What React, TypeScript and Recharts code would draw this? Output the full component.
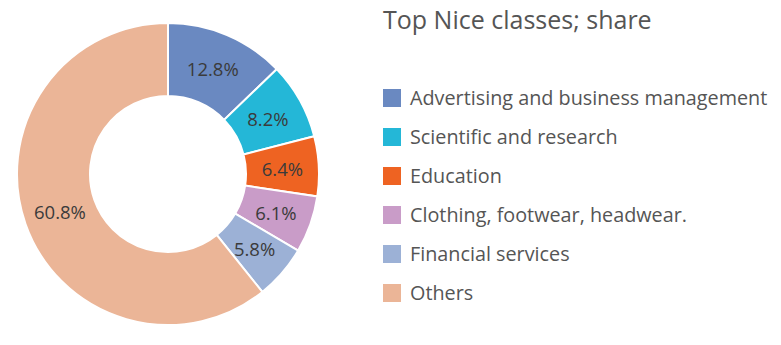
import { PieChart, Pie, Cell, Legend } from 'recharts';

const categories = [
    "Advertising and business management",
    "Scientific and research",
    "Education",
    "Clothing, footwear, headwear.",
    "Financial services",
    "Others",
];
const shares = [12.8, 8.2, 6.4, 6.1, 5.8, 60.8];
const colors = ["#6a89c1", "#24b7d7", "#ee6322", "#c99cc8", "#9cb1d6", "#ebb597"];

const data = categories.map((name, i) => ({ name, value: shares[i], fill: colors[i] }));

const FONT = '"Open Sans", "Noto Sans", sans-serif';
const RADIAN = Math.PI / 180;

const renderLabel = (props: any) => {
    const { cx, cy, midAngle, innerRadius, outerRadius, value } = props;
    const r = (innerRadius + outerRadius) / 2;
    const x = cx + r * Math.cos(-midAngle * RADIAN);
    const y = cy + r * Math.sin(-midAngle * RADIAN);
    return (
        <text x={x} y={y} fill="#3b3b3b" fontSize={18.5} fontFamily={FONT} textAnchor="middle" dominantBaseline="central">
            {value.toFixed(1)}%
        </text>
    );
};

const renderLegend = () => (
    <div style={{ fontFamily: FONT, color: "#555" }}>
        <div style={{ fontSize: 25, lineHeight: '38px', marginTop: 0 }}>Top Nice classes; share</div>
        <div style={{ marginTop: 40 }}>
            {data.map((d) => (
                <div key={d.name} style={{ display: 'flex', alignItems: 'center', height: 39, fontSize: 19.8 }}>
                    <span style={{ width: 18, height: 18, background: d.fill, display: 'inline-block', marginRight: 9 }} />
                    <span>{d.name}</span>
                </div>
            ))}
        </div>
    </div>
);

const App = () => {
    return (
        <div style={{ position: 'absolute', left: 0, top: 0, width: 781, height: 345, background: '#fff' }}>
            <PieChart width={781} height={345}>
                <Pie
                    data={data}
                    dataKey="value"
                    cx={163}
                    cy={169}
                    innerRadius={78}
                    outerRadius={151}
                    startAngle={90}
                    endAngle={-270}
                    stroke="#fff"
                    strokeWidth={2}
                    label={renderLabel}
                    labelLine={false}
                    isAnimationActive={false}
                >
                    {data.map((entry, index) => (
                        <Cell key={`cell-${index}`} fill={entry.fill} />
                    ))}
                </Pie>
                <Legend
                    content={renderLegend}
                    layout="vertical"
                    wrapperStyle={{ position: 'absolute', left: 383, top: 0, width: 398 }}
                />
            </PieChart>
        </div>
    );
};

export default App;
